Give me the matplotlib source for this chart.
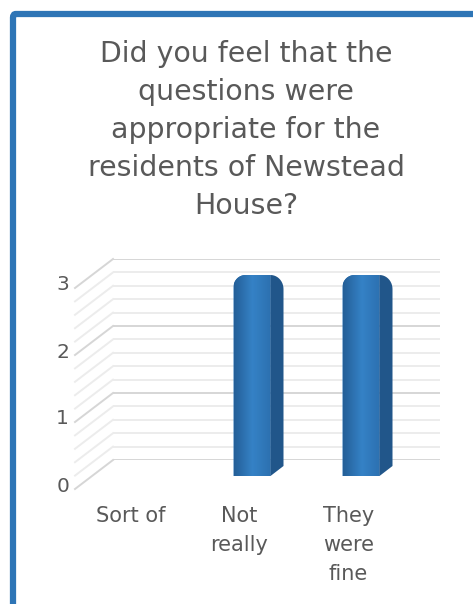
import numpy as np
import matplotlib
matplotlib.use("Agg")
import matplotlib.pyplot as plt
import matplotlib.transforms as mtransforms
from matplotlib.colors import LinearSegmentedColormap
from matplotlib.patches import FancyBboxPatch, Polygon

categories = ["Sort of", "Not\nreally", "They\nwere\nfine"]
counts = [0, 3, 3]
y_ticks = [0, 1, 2, 3]
title = "Did you feel that the\nquestions were\nappropriate for the\nresidents of Newstead\nHouse?"

W, H, DPI = 473, 604, 100
text_grey = "#595959"
blue = "#2E75B6"
blue_dark = "#21568A"

fig = plt.figure(figsize=(W / DPI, H / DPI), dpi=DPI)

# frame around the chart (only top and left edges fall inside the image)
frame = FancyBboxPatch((13 / W, -0.2), 1.2, 1.2 - 14 / H,
                       boxstyle="round,pad=0,rounding_size=0.006",
                       transform=fig.transFigure, fill=False,
                       edgecolor=blue, linewidth=4.5)
fig.patches.append(frame)

fig.text(246 / W, 1 - 40 / H, title, ha="center", va="top",
         fontsize=20.4, color=text_grey, linespacing=1.45)

# back wall of the 3d plot area
ax = fig.add_axes([113 / W, 144 / H, 327 / W, 201 / H])
ax.set_xlim(-0.5, len(categories) - 0.5)
ax.set_ylim(0, 3)
ax.axis("off")

def shift(dx, dy):
    return ax.transData + mtransforms.ScaledTranslation(dx / DPI, dy / DPI, fig.dpi_scale_trans)

depth_x, depth_y = -38, -29
px_x = 3 / 327
px_y = 3 / 201

for v in np.arange(0, 3.01, 0.2):
    major = abs(v - round(v)) < 1e-6
    col = "#D6D6D6" if major else "#ECECEC"
    ax.plot([-0.5, 2.5], [v, v], color=col, lw=1.4, solid_capstyle="butt", zorder=1)
    x0, y0 = ax.transData.transform((-0.5, v))
    ax.plot([x0, x0 + depth_x], [y0, y0 + depth_y], color=col, lw=1.4,
            transform=mtransforms.IdentityTransform(), clip_on=False, zorder=1)

for t in y_ticks:
    ax.text(-0.5, t, str(t), transform=shift(-44, -26), ha="right", va="center",
            fontsize=14.5, color=text_grey, clip_on=False)

for i, lab in enumerate(categories):
    ax.text(i, 0, lab, transform=shift(-37, -46), ha="center", va="top",
            fontsize=15, color=text_grey, linespacing=1.55, clip_on=False)


def corner(cx, cy, rx, ry, a0, a1, n=12):
    a = np.radians(np.linspace(a0, a1, n))
    return list(zip(cx + rx * np.cos(a), cy + ry * np.sin(a)))


# bars sit partway into the depth of the floor
bar_w = 37 * px_x
side_w = 13 * px_x
side_rise = 10 * px_y
rx, ry = 12 * px_x, 12 * px_y
sx, sy = side_w, 14 * px_y
bar_tr = shift(-24.5, -16)
shade_cmap = LinearSegmentedColormap.from_list("face", ["#245F98", "#3582C6", "#2C70B0"])

bars = ax.bar(range(len(categories)), counts, width=bar_w, color=blue, linewidth=0, zorder=3)
for r in bars:
    r.set_transform(bar_tr)
    r.set_visible(False)
    h = r.get_height()
    if h <= 0:
        continue
    x, w = r.get_x(), r.get_width()

    front_pts = [(x, 0), (x + w, 0), (x + w, h)]
    front_pts += corner(x + rx, h - ry, rx, ry, 90, 180)
    front = Polygon(front_pts, closed=True, facecolor=blue, edgecolor="none",
                    transform=bar_tr, zorder=3, clip_on=False)
    ax.add_patch(front)

    side_pts = [(x + w, 0), (x + w + side_w, side_rise)]
    side_pts += corner(x + w, h - sy, sx, sy, 0, 90)
    side = Polygon(side_pts, closed=True, facecolor=blue_dark, edgecolor="none",
                   transform=bar_tr, zorder=3.1, clip_on=False)
    ax.add_patch(side)

    # lighter band down the middle of the front face
    grad = np.linspace(0, 1, 64)[None, :]
    img = ax.imshow(grad, extent=(x, x + w, 0, h), cmap=shade_cmap, aspect="auto",
                    transform=bar_tr, zorder=3.05)
    img.set_clip_path(front)
    img.set_clip_box(fig.bbox)

ax.set_xlim(-0.5, len(categories) - 0.5)
ax.set_ylim(0, 3)

fig.savefig("out.png", dpi=DPI)
